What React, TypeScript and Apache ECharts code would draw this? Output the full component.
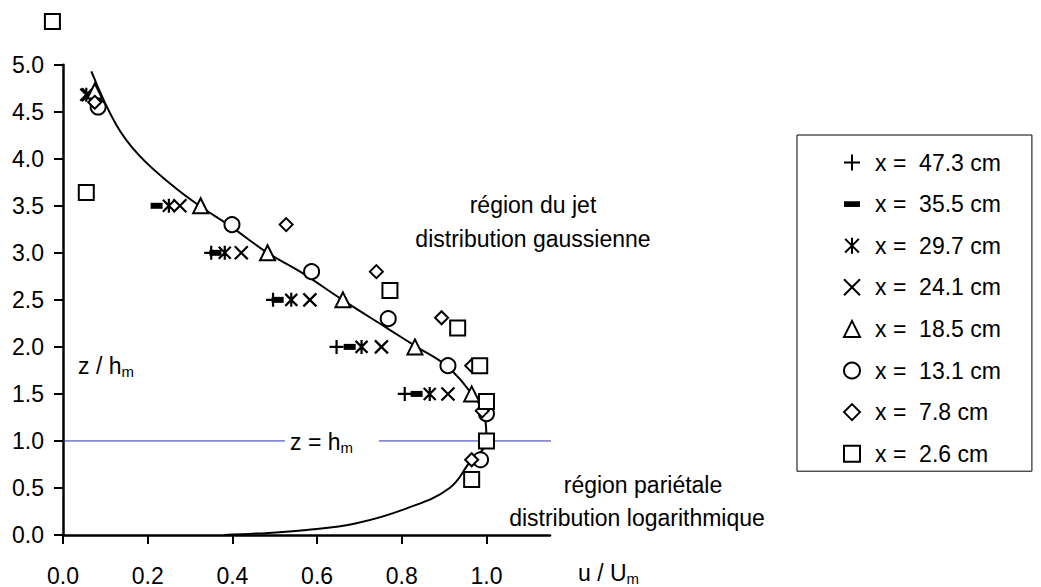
import React, { useEffect, useRef } from "react";
import * as echarts from "echarts";

// ---- data (u/Um, z/hm) ----
const seriesNames = [
  "x =  47.3 cm",
  "x =  35.5 cm",
  "x =  29.7 cm",
  "x =  24.1 cm",
  "x =  18.5 cm",
  "x =  13.1 cm",
  "x =  7.8 cm",
  "x =  2.6 cm",
];
const pts473 = [[0.35, 3.0], [0.496, 2.5], [0.646, 2.0], [0.807, 1.5]];
const pts355 = [[0.221, 3.5], [0.36, 3.0], [0.507, 2.5], [0.677, 2.0], [0.835, 1.5]];
const pts297 = [[0.055, 4.68], [0.25, 3.5], [0.382, 3.0], [0.539, 2.5], [0.705, 2.0], [0.866, 1.5]];
const pts241 = [[0.06, 4.68], [0.276, 3.5], [0.421, 3.0], [0.583, 2.5], [0.752, 2.0], [0.909, 1.5]];
const pts185 = [[0.075, 4.72], [0.325, 3.5], [0.483, 3.0], [0.661, 2.5], [0.831, 2.0], [0.965, 1.5]];
const pts131 = [[0.083, 4.55], [0.399, 3.3], [0.587, 2.8], [0.768, 2.3], [0.909, 1.8], [1.0, 1.29], [0.986, 0.8]];
const pts78 = [[0.075, 4.60], [0.527, 3.3], [0.74, 2.8], [0.894, 2.31], [0.965, 1.8], [0.99, 1.32], [0.965, 0.8]];
const pts26 = [[-0.025, 5.46], [0.055, 3.64], [0.772, 2.6], [0.932, 2.2], [0.984, 1.8], [1.0, 1.42], [1.0, 1.0], [0.965, 0.59]];

// fitted profile (log region near wall + gaussian jet region)
const curveU = [0.38, 0.457, 0.575, 0.693, 0.81, 0.913, 0.965, 0.99, 1.0, 0.996, 0.965, 0.905, 0.835, 0.765, 0.66, 0.56, 0.483, 0.39, 0.322, 0.26, 0.181, 0.126, 0.067];
const curveZ = [0.0, 0.015, 0.053, 0.125, 0.28, 0.5, 0.8, 0.9, 1.0, 1.26, 1.5, 1.8, 2.0, 2.2, 2.5, 2.8, 3.0, 3.3, 3.5, 3.71, 4.03, 4.36, 4.93];

// reference line z = hm
const refLeft = [[0, 1.0], [0.524, 1.0]];
const refRight = [[0.746, 1.0], [1.402, 1.0]];

const xTicks = [0, 0.2, 0.4, 0.6, 0.8, 1.0];

const FONT = "'Liberation Sans', Arial, sans-serif";
const FS = 23;
const SUB = 15;

export default function App() {
  const ref = useRef<HTMLDivElement>(null);
  useEffect(() => {
    if (!ref.current) return;
    const chart = echarts.init(ref.current, null, { renderer: "svg" });

    const plus = "path://M0,7L14,7M7,0L7,14";
    const dash = "path://M0,0L14,0L14,5L0,5Z";
    const aster = "path://M1,1L13,13M13,1L1,13M7,0L7,14";
    const cross = "path://M0,0L14,14M14,0L0,14";

    const mk = (name: string, data: number[][], symbol: string, size: any, fill: string, bw: number, keep = true) => ({
      type: "scatter",
      name,
      data,
      symbol,
      symbolSize: size,
      symbolKeepAspect: keep,
      clip: false,
      itemStyle: { color: fill, borderColor: "#000", borderWidth: bw, opacity: 1 },
      emphasis: { disabled: true },
    });

    const sub = (t: string) => ({
      text: `{a|${t}}{s|m}`,
      fill: "#000",
      rich: {
        a: { fontSize: FS, fontFamily: FONT, fill: "#000" },
        s: { fontSize: SUB, fontFamily: FONT, fill: "#000", verticalAlign: "bottom", padding: [0, 0, -2, 0] },
      },
    });

    const option: any = {
      animation: false,
      textStyle: { fontFamily: FONT },
      grid: { left: 63, top: 64.7, width: 487, height: 472, containLabel: false },
      xAxis: {
        type: "value",
        min: 0,
        max: 1.15,
        interval: 0.2,
        axisLine: { lineStyle: { color: "#000", width: 2.5 } },
        axisTick: { show: true, length: 9, lineStyle: { color: "#000", width: 2 }, customValues: xTicks },
        axisLabel: {
          color: "#000",
          fontSize: FS,
          fontFamily: FONT,
          margin: 29,
          customValues: xTicks,
          formatter: (v: number) => v.toFixed(1),
        },
        splitLine: { show: false },
      },
      yAxis: {
        type: "value",
        min: 0,
        max: 5,
        interval: 0.5,
        axisLine: { show: true, lineStyle: { color: "#000", width: 2.5 } },
        axisTick: { show: true, length: 9, lineStyle: { color: "#000", width: 2 } },
        axisLabel: {
          color: "#000",
          fontSize: FS,
          fontFamily: FONT,
          margin: 19,
          formatter: (v: number) => v.toFixed(1),
        },
        splitLine: { show: false },
      },
      legend: {
        data: seriesNames,
        orient: "vertical",
        left: 797,
        top: 135,
        padding: [16, 31, 6, 46],
        itemWidth: 16,
        itemHeight: 16,
        itemGap: 18.6,
        symbolKeepAspect: true,
        borderColor: "#000",
        borderWidth: 1,
        selectedMode: false,
        textStyle: { color: "#000", fontSize: FS, fontFamily: FONT, padding: [0, 0, 0, 10] },
      },
      series: [
        {
          type: "line",
          name: "profil",
          data: curveU.map((u, i) => [u, curveZ[i]]),
          smooth: 0.4,
          showSymbol: false,
          symbol: "none",
          lineStyle: { color: "#000", width: 2 },
          z: 1,
          silent: true,
        },
        {
          type: "line",
          name: "ref1",
          data: refLeft,
          symbol: "none",
          clip: false,
          lineStyle: { color: "#2e2eaa", width: 1 },
          z: 1,
          silent: true,
        },
        {
          type: "line",
          name: "ref2",
          data: refRight,
          symbol: "none",
          clip: false,
          lineStyle: { color: "#2e2eaa", width: 1 },
          z: 1,
          silent: true,
        },
        mk(seriesNames[0], pts473, plus, 14, "#000", 2.2),
        mk(seriesNames[1], pts355, dash, [12, 6], "#000", 0, false),
        mk(seriesNames[2], pts297, aster, 14, "#000", 2.2),
        mk(seriesNames[3], pts241, cross, 13, "#000", 2.2),
        mk(seriesNames[4], pts185, "triangle", 15, "#fff", 2),
        mk(seriesNames[5], pts131, "circle", 15, "#fff", 2),
        mk(seriesNames[6], pts78, "diamond", 13, "#fff", 2),
        mk(seriesNames[7], pts26, "rect", 15, "#fff", 2),
      ],
      graphic: [
        { type: "text", left: 290, top: 430, style: sub("z = h") },
        { type: "text", left: 78, top: 354, style: sub("z / h") },
        { type: "text", left: 578, top: 561, style: sub("u / U") },
        {
          type: "text",
          x: 533,
          y: 205,
          style: { text: "région du jet", fontSize: FS, fontFamily: FONT, fill: "#000", align: "center", verticalAlign: "middle" },
        },
        {
          type: "text",
          x: 533,
          y: 239,
          style: { text: "distribution gaussienne", fontSize: FS, fontFamily: FONT, fill: "#000", align: "center", verticalAlign: "middle" },
        },
        {
          type: "text",
          x: 643,
          y: 485,
          style: { text: "région pariétale", fontSize: FS, fontFamily: FONT, fill: "#000", align: "center", verticalAlign: "middle" },
        },
        {
          type: "text",
          x: 637,
          y: 518,
          style: { text: "distribution logarithmique", fontSize: FS, fontFamily: FONT, fill: "#000", align: "center", verticalAlign: "middle" },
        },
      ],
    };
    chart.setOption(option);
    return () => chart.dispose();
  }, []);
  return (
    <div
      ref={ref}
      style={{ position: "fixed", left: 0, top: 0, width: 1041, height: 587, background: "#fff" }}
    />
  );
}
